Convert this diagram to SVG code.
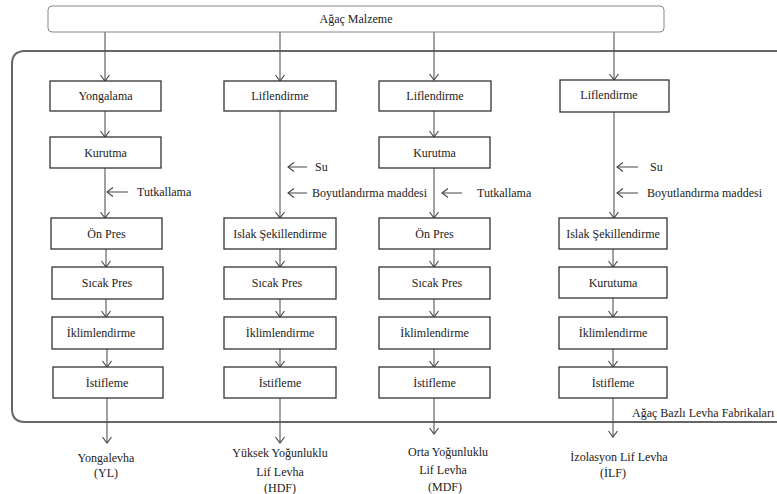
<svg xmlns="http://www.w3.org/2000/svg" width="777" height="494" viewBox="0 0 777 494">
<style>
text{font-family:'Liberation Serif','DejaVu Serif',serif;font-size:12px;fill:#222}
.c{text-anchor:middle}
.box{fill:#fff;stroke:#333;stroke-width:1.3}
.ln{stroke:#555;stroke-width:1.1;fill:none}
</style>
<defs>
<marker id="ah" viewBox="-7 -5 8 10" refX="0" refY="0" markerWidth="8" markerHeight="10" markerUnits="userSpaceOnUse" orient="auto">
<path d="M-6,-4.5 L0,0 L-6,4.5" fill="none" stroke="#444" stroke-width="1.1"/>
</marker>
</defs>
<rect x="0" y="0" width="777" height="494" fill="#fff"/>
<g id="container">
<path d="M790,51 H25 Q12,51 12,64 V409 Q12,422 25,422 H790" fill="none" stroke="#666" stroke-width="2"/>
<text x="632" y="417" font-family="Liberation Serif, serif">Ağaç Bazlı Levha Fabrikaları</text>
</g>
<g id="connectors">
<path class="ln" d="M105,32 V81" marker-end="url(#ah)"/>
<path class="ln" d="M280,32 V81" marker-end="url(#ah)"/>
<path class="ln" d="M434,32 V80" marker-end="url(#ah)"/>
<path class="ln" d="M614,32 V80" marker-end="url(#ah)"/>
<path class="ln" d="M105,111 V137" marker-end="url(#ah)"/>
<path class="ln" d="M105,168 V218" marker-end="url(#ah)"/>
<path class="ln" d="M106,249 V267" marker-end="url(#ah)"/>
<path class="ln" d="M106,299 V317" marker-end="url(#ah)"/>
<path class="ln" d="M107,349 V367" marker-end="url(#ah)"/>
<path class="ln" d="M107,398 V443" marker-end="url(#ah)"/>
<path class="ln" d="M128,192 H107" marker-end="url(#ah)"/>
<path class="ln" d="M280,111 V218" marker-end="url(#ah)"/>
<path class="ln" d="M280,249 V267" marker-end="url(#ah)"/>
<path class="ln" d="M280,299 V317" marker-end="url(#ah)"/>
<path class="ln" d="M280,349 V367" marker-end="url(#ah)"/>
<path class="ln" d="M280,398 V443" marker-end="url(#ah)"/>
<path class="ln" d="M307,167 H288" marker-end="url(#ah)"/>
<path class="ln" d="M307,193 H288" marker-end="url(#ah)"/>
<path class="ln" d="M434,111 V137" marker-end="url(#ah)"/>
<path class="ln" d="M434,168 V218" marker-end="url(#ah)"/>
<path class="ln" d="M434,249 V267" marker-end="url(#ah)"/>
<path class="ln" d="M434,299 V317" marker-end="url(#ah)"/>
<path class="ln" d="M434,349 V367" marker-end="url(#ah)"/>
<path class="ln" d="M434,398 V434" marker-end="url(#ah)"/>
<path class="ln" d="M462,193 H442" marker-end="url(#ah)"/>
<path class="ln" d="M614,112 V218" marker-end="url(#ah)"/>
<path class="ln" d="M613,249 V267" marker-end="url(#ah)"/>
<path class="ln" d="M613,298 V317" marker-end="url(#ah)"/>
<path class="ln" d="M613,349 V367" marker-end="url(#ah)"/>
<path class="ln" d="M613,398 V437" marker-end="url(#ah)"/>
<path class="ln" d="M638,167 H617" marker-end="url(#ah)"/>
<path class="ln" d="M638,193 H617" marker-end="url(#ah)"/>
</g>
<g id="inputs">
<text x="137" y="196">Tutkallama</text>
<text x="315" y="171">Su</text>
<text x="312" y="197">Boyutlandırma maddesi</text>
<text x="477" y="197">Tutkallama</text>
<text x="650" y="171">Su</text>
<text x="647" y="197">Boyutlandırma maddesi</text>
</g>
<g id="n-agac"><rect x="48" y="6" width="616" height="26" rx="4" fill="#fff" stroke="#888" stroke-width="1"/><text class="c" x="356" y="23">Ağaç Malzeme</text></g>
<g id="c1-yongalama"><rect class="box" x="50" y="81" width="111" height="30"/><text class="c" x="105.5" y="100">Yongalama</text></g>
<g id="c1-kurutma"><rect class="box" x="50" y="137" width="111" height="31"/><text class="c" x="105.5" y="157">Kurutma</text></g>
<g id="c1-onpres"><rect class="box" x="51" y="218" width="111" height="31"/><text class="c" x="106.5" y="238">Ön Pres</text></g>
<g id="c1-sicak"><rect class="box" x="52" y="267" width="111" height="32"/><text class="c" x="107" y="287">Sıcak Pres</text></g>
<g id="c1-iklim"><rect class="box" x="52" y="317" width="111" height="32"/><text class="c" x="101" y="337">İklimlendirme</text></g>
<g id="c1-istif"><rect class="box" x="53" y="367" width="110" height="31"/><text class="c" x="107" y="387">İstifleme</text></g>
<g id="c2-lif"><rect class="box" x="224" y="81" width="112" height="30"/><text class="c" x="280" y="100">Liflendirme</text></g>
<g id="c2-islak"><rect class="box" x="224" y="218" width="112" height="31"/><text class="c" x="280" y="238">Islak Şekillendirme</text></g>
<g id="c2-sicak"><rect class="box" x="224" y="267" width="112" height="32"/><text class="c" x="277" y="287">Sıcak Pres</text></g>
<g id="c2-iklim"><rect class="box" x="224" y="317" width="112" height="32"/><text class="c" x="280" y="337">İklimlendirme</text></g>
<g id="c2-istif"><rect class="box" x="224" y="367" width="112" height="31"/><text class="c" x="280" y="387">İstifleme</text></g>
<g id="c3-lif"><rect class="box" x="379" y="81" width="112" height="30"/><text class="c" x="435" y="100">Liflendirme</text></g>
<g id="c3-kurutma"><rect class="box" x="379" y="137" width="111" height="31"/><text class="c" x="434.5" y="157">Kurutma</text></g>
<g id="c3-onpres"><rect class="box" x="379" y="218" width="111" height="31"/><text class="c" x="434.5" y="238">Ön Pres</text></g>
<g id="c3-sicak"><rect class="box" x="379" y="267" width="111" height="32"/><text class="c" x="437" y="287">Sıcak Pres</text></g>
<g id="c3-iklim"><rect class="box" x="379" y="317" width="111" height="32"/><text class="c" x="434.5" y="337">İklimlendirme</text></g>
<g id="c3-istif"><rect class="box" x="379" y="367" width="111" height="31"/><text class="c" x="434.5" y="387">İstifleme</text></g>
<g id="c4-lif"><rect class="box" x="560" y="80" width="109" height="32"/><text class="c" x="609" y="99">Liflendirme</text></g>
<g id="c4-islak"><rect class="box" x="559" y="218" width="108" height="31"/><text class="c" x="613" y="238">Islak Şekillendirme</text></g>
<g id="c4-kurutuma"><rect class="box" x="559" y="267" width="108" height="31"/><text class="c" x="613" y="287">Kurutuma</text></g>
<g id="c4-iklim"><rect class="box" x="559" y="317" width="108" height="32"/><text class="c" x="613" y="337">İklimlendirme</text></g>
<g id="c4-istif"><rect class="box" x="559" y="367" width="108" height="31"/><text class="c" x="613" y="387">İstifleme</text></g>
<g id="out-yl"><text class="c" x="106" y="462">Yongalevha</text><text class="c" x="106" y="477">(YL)</text></g>
<g id="out-hdf"><text class="c" x="280" y="457">Yüksek Yoğunluklu</text><text class="c" x="280" y="476">Lif Levha</text><text class="c" x="280" y="492">(HDF)</text></g>
<g id="out-mdf"><text class="c" x="448" y="456">Orta Yoğunluklu</text><text class="c" x="443" y="474">Lif Levha</text><text class="c" x="445" y="491">(MDF)</text></g>
<g id="out-ilf"><text class="c" x="619" y="461">İzolasyon Lif Levha</text><text class="c" x="613" y="477">(İLF)</text></g>
</svg>
